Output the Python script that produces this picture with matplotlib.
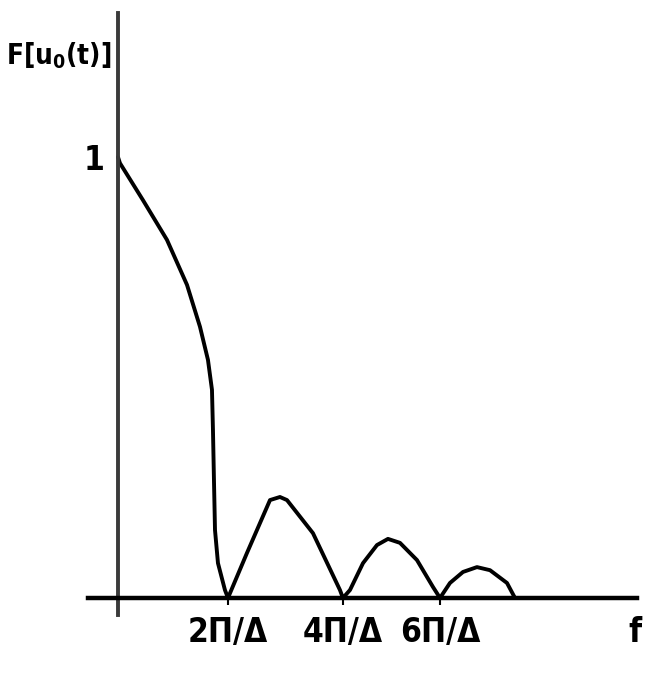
import matplotlib
matplotlib.use('Agg')
import matplotlib.pyplot as plt
import numpy as np

# Curve, x in units of pi/Delta, y normalised so F(0) = 1
main_x = [0.0, 0.036, 0.455, 0.891, 1.255, 1.491, 1.636, 1.709, 1.727, 1.745, 1.764, 1.818, 1.945]
main_y = [1.0, 0.986, 0.902, 0.812, 0.710, 0.615, 0.540, 0.472, 0.381, 0.268, 0.154, 0.079, 0.018]

lobe1_x = [2.0, 2.345, 2.764, 2.945, 3.073, 3.545, 4.036, 4.09]
lobe1_y = [0.0, 0.102, 0.222, 0.229, 0.222, 0.147, 0.018, 0.0]

lobe2_x = [4.09, 4.218, 4.455, 4.709, 4.909, 5.127, 5.436, 5.727, 5.855]
lobe2_y = [0.0, 0.018, 0.079, 0.120, 0.134, 0.125, 0.086, 0.025, 0.0]

lobe3_x = [5.855, 6.036, 6.273, 6.527, 6.764, 7.073, 7.218]
lobe3_y = [0.0, 0.034, 0.059, 0.070, 0.063, 0.034, 0.0]

tick_pos = [2.0, 4.09, 5.855]
tick_labels = ['2Π/Δ', '4Π/Δ', '6Π/Δ']

plt.rcParams['font.family'] = ['DejaVu Sans']
plt.rcParams['font.stretch'] = 'condensed'
plt.rcParams['mathtext.default'] = 'bf'

fig = plt.figure(figsize=(6.5, 6.8), dpi=100)
ax = fig.add_axes([0, 0, 1, 1])
ax.set_xlim(-2.145, 9.673)
ax.set_ylim(-0.186, 1.356)

x = np.concatenate([main_x, lobe1_x, lobe2_x[1:], lobe3_x[1:]])
y = np.concatenate([main_y, lobe1_y, lobe2_y[1:], lobe3_y[1:]])
ax.plot(x, y, color='black', lw=2.8, solid_joinstyle='round', solid_capstyle='round')

for side in ['top', 'right']:
    ax.spines[side].set_visible(False)
ax.spines['left'].set_position(('data', 0))
ax.spines['bottom'].set_position(('data', 0))
ax.spines['left'].set_bounds(-0.039, 1.327)
ax.spines['bottom'].set_bounds(-0.545, 9.436)
ax.spines['left'].set_linewidth(2.8)
ax.spines['left'].set_color('#3a3a3a')
ax.spines['bottom'].set_linewidth(3.2)

ax.set_xticks(tick_pos)
ax.set_xticklabels(tick_labels, fontsize=24, fontweight='bold', fontstretch='condensed')
ax.tick_params(axis='x', direction='out', length=5, width=1.5, pad=8)
ax.set_yticks([1.0])
ax.set_yticklabels(['1'], fontsize=24, fontweight='bold', fontstretch='condensed')
ax.tick_params(axis='y', length=0, pad=10)

ax.text(-1.07, 1.265, r'F[u$_0$(t)]', fontsize=20, fontweight='bold',
        fontstretch='condensed', ha='center', va='top')
ax.text(9.4, -0.04, 'f', fontsize=24, fontweight='bold', fontstretch='condensed',
        ha='center', va='top')

fig.savefig('out.png', dpi=100)
